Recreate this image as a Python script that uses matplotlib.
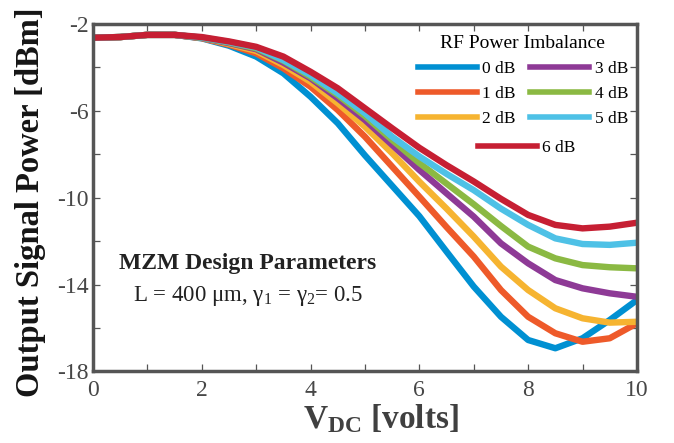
import matplotlib
matplotlib.use("Agg")
import matplotlib.pyplot as plt
from matplotlib.ticker import FixedLocator, NullFormatter

plt.rcParams['font.family'] = ['Liberation Serif', 'DejaVu Serif']
plt.rcParams['mathtext.fontset'] = 'custom'
plt.rcParams['mathtext.rm'] = 'Liberation Serif'
plt.rcParams['mathtext.it'] = 'Liberation Serif:italic'
plt.rcParams['mathtext.bf'] = 'Liberation Serif:bold'
plt.rcParams['axes.unicode_minus'] = False

# DC bias voltage (V)
v_dc = [0, 0.5, 1, 1.5, 2, 2.5, 3, 3.5, 4, 4.5, 5, 5.5, 6, 6.5, 7, 7.5, 8, 8.5, 9, 9.5, 10]

# Output signal power (dBm) for each RF power imbalance
p_0db = [-2.63, -2.6, -2.5, -2.5, -2.66, -3.0, -3.5, -4.27, -5.35, -6.57, -8.05, -9.45,
         -10.85, -12.48, -14.09, -15.48, -16.55, -16.93, -16.47, -15.63, -14.71]
p_1db = [-2.63, -2.6, -2.5, -2.5, -2.65, -2.95, -3.35, -4.04, -4.89, -5.96, -7.19, -8.57,
         -9.95, -11.35, -12.71, -14.25, -15.48, -16.24, -16.63, -16.47, -15.78]
p_2db = [-2.63, -2.6, -2.5, -2.5, -2.64, -2.92, -3.24, -3.89, -4.66, -5.65, -6.73, -7.95,
         -9.26, -10.5, -11.79, -13.17, -14.25, -15.09, -15.55, -15.75, -15.71]
p_3db = [-2.63, -2.6, -2.5, -2.5, -2.64, -2.88, -3.16, -3.78, -4.5, -5.42, -6.42, -7.57,
         -8.72, -9.8, -10.87, -12.1, -13.02, -13.79, -14.17, -14.4, -14.56]
p_4db = [-2.63, -2.6, -2.5, -2.5, -2.63, -2.85, -3.12, -3.69, -4.43, -5.27, -6.24, -7.34,
         -8.4, -9.35, -10.3, -11.3, -12.25, -12.79, -13.1, -13.2, -13.25]
p_5db = [-2.63, -2.6, -2.5, -2.5, -2.62, -2.83, -3.08, -3.66, -4.35, -5.19, -6.11, -7.19,
         -8.1, -8.9, -9.65, -10.5, -11.25, -11.87, -12.13, -12.17, -12.07]
p_6db = [-2.63, -2.6, -2.5, -2.5, -2.6, -2.8, -3.05, -3.5, -4.2, -4.96, -5.88, -6.8,
         -7.7, -8.5, -9.25, -10.05, -10.79, -11.25, -11.41, -11.33, -11.15]

series = [p_0db, p_1db, p_2db, p_3db, p_4db, p_5db, p_6db]
labels = ['0 dB', '1 dB', '2 dB', '3 dB', '4 dB', '5 dB', '6 dB']
colors = ['#0090D2', '#EE5A2A', '#F6B431', '#8E3A96', '#8BB943', '#4EC1E6', '#C61F33']

x_ticks = [0, 2, 4, 6, 8, 10]
x_minor = [1, 3, 5, 7, 9]
y_ticks = [-18, -14, -10, -6, -2]
y_minor = [-16, -12, -8, -4]

fig = plt.figure(figsize=(6.74, 4.43), dpi=100)
ax = fig.add_axes([0.138, 0.1614, 0.807, 0.7844])

lines = []
for y, lab, c in zip(series, labels, colors):
    ln, = ax.plot(v_dc, y, color=c, lw=4.6, label=lab, solid_joinstyle='round')
    lines.append(ln)

ax.set_xlim(0, 10)
ax.set_ylim(-18, -2)
ax.xaxis.set_major_locator(FixedLocator(x_ticks))
ax.xaxis.set_minor_locator(FixedLocator(x_minor))
ax.yaxis.set_major_locator(FixedLocator(y_ticks))
ax.yaxis.set_minor_locator(FixedLocator(y_minor))
ax.yaxis.set_minor_formatter(NullFormatter())

spine_col = '#555555'
for s in ax.spines.values():
    s.set_color(spine_col)
    s.set_linewidth(2.5)
ax.tick_params(which='both', direction='in', top=True, right=True, length=5,
               width=0.9, color=spine_col, labelsize=17, labelcolor='#474747')
ax.tick_params(axis='x', pad=6)
ax.tick_params(axis='y', pad=3)

ax.set_xlabel(r'$\mathbf{V_{DC}}$ [volts]', fontsize=24, fontweight='bold',
              color='#404040')
ax.xaxis.set_label_coords(0.53, -0.088)
ax.set_ylabel('Output Signal Power [dBm]', fontsize=23.5, fontweight='bold',
              color='#151515')
ax.yaxis.set_label_coords(-0.087, 0.488)

ax.text(0.285, 0.31, 'MZM Design Parameters', transform=ax.transAxes,
        ha='center', va='center', fontsize=17, fontweight='bold', color='#222222')
ax.text(0.285, 0.217, r'L = 400 $\mathrm{\mu}$m, $\mathrm{\gamma_1}$ = $\mathrm{\gamma_2}$= 0.5',
        transform=ax.transAxes, ha='center', va='center', fontsize=16.5, color='#222222')

leg1 = ax.legend(handles=lines[:6], ncol=2, title='RF Power Imbalance',
                 loc='upper right', bbox_to_anchor=(0.99, 0.978), frameon=False,
                 fontsize=12.5, title_fontsize=14, handlelength=3.4,
                 handletextpad=0.3, columnspacing=0.85, labelspacing=0.5,
                 borderpad=0.2, borderaxespad=0.0)
ax.add_artist(leg1)
ax.legend(handles=lines[6:], loc='center right', bbox_to_anchor=(0.894, 0.643),
          frameon=False, fontsize=12.5, handlelength=3.4, handletextpad=0.3,
          borderpad=0.2, borderaxespad=0.0)
for lg in [leg1, ax.get_legend()]:
    for h in lg.legend_handles:
        h.set_linewidth(4.0)

fig.savefig('out.png', dpi=100)
